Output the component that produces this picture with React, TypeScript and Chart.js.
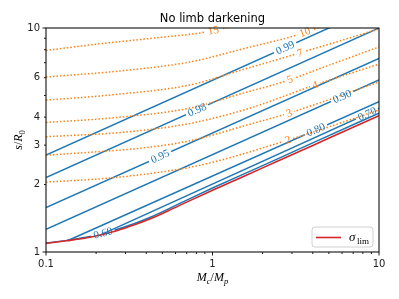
import { useEffect, useRef } from 'react';
import { Chart, registerables } from 'chart.js';

Chart.register(...registerables);

// ---- axis ticks ----
const xTickValues = [0.1, 0.2, 0.3, 0.4, 0.5, 0.6, 0.7, 0.8, 0.9, 1, 2, 3, 4, 5, 6, 7, 8, 9, 10];
const xLabelled = [0.1, 1, 10];
const xMajor = [0.1, 1, 10];
const yTickValues = [1, 2, 3, 4, 5, 6, 7, 8, 9, 10];
const yLabelled = [1, 2, 3, 4, 6, 10];
const yMajor = [1, 10];

// ---- sigma_lim (red) ----
const sigmaLimX = [0.1, 0.133, 0.19, 0.266, 0.34, 0.42, 0.55, 0.7, 1, 2, 4, 7, 10];
const sigmaLimY = [1.093, 1.122, 1.17, 1.245, 1.322, 1.403, 1.535, 1.67, 1.885, 2.374, 2.99, 3.605, 4.06];

// ---- blue solid contours ----
const c099X = [0.1, 10];
const c099Y = [2.71, 12.6];
const c098X = [0.1, 10];
const c098Y = [2.15, 10.0];
const c095X = [0.1, 10];
const c095Y = [1.58, 7.32];
const c090X = [0.1, 10];
const c090Y = [1.264, 5.86];
const c080X = [0.1355, 10];
const c080Y = [1.125, 4.69];
const c070X = [0.211, 10];
const c070Y = [1.19, 4.37];
const c060X = [0.1, 0.133, 0.19, 0.266, 0.34, 0.42, 0.7, 1, 2, 4, 10];
const c060Y = [1.095, 1.127, 1.18, 1.26, 1.34, 1.425, 1.705, 1.93, 2.43, 3.07, 4.17];

// ---- orange dotted contours ----
const s15X = [0.1, 0.211, 0.5, 0.841, 1.19, 1.6];
const s15Y = [7.94, 8.5, 9.1, 9.5, 10.0, 10.6];
const s10X = [0.1, 0.278, 0.733, 1.5, 3.22, 5.08];
const s10Y = [6.04, 6.43, 7.05, 8.05, 9.31, 10.5];
const s7X = [0.1, 0.242, 0.733, 1.5, 3.04, 5.5, 10];
const s7Y = [4.77, 5.02, 5.57, 6.5, 7.58, 8.65, 9.9];
const s5X = [0.1, 0.242, 0.733, 1.5, 2.65, 5, 10];
const s5Y = [3.79, 3.96, 4.39, 5.1, 5.74, 6.82, 8.23];
const s4X = [0.1, 0.3, 0.733, 1.68, 4.13, 10];
const s4Y = [3.27, 3.43, 3.75, 4.39, 5.57, 6.9];
const s3X = [0.1, 0.421, 0.733, 1.68, 2.88, 10];
const s3Y = [2.7, 2.94, 3.14, 3.72, 4.17, 5.74];
const s2X = [0.1, 0.278, 0.841, 2.84, 10];
const s2Y = [2.05, 2.16, 2.44, 3.16, 4.3];

// ---- contour label texts and their x positions ----
const blueLevels = ['0.99', '0.98', '0.95', '0.90', '0.80', '0.70', '0.60'];
const blueLabelX = [2.73, 0.807, 0.484, 6.0, 4.18, 8.47, 0.22];
const orangeLevels = ['15', '10', '7', '5', '4', '3', '2'];
const orangeLabelX = [1.01, 3.59, 3.35, 2.92, 4.13, 2.88, 2.84];

const BLUE = '#1f77b4';
const ORANGE = '#ff7f0e';
const RED = '#d62728';

type Series = {
  name: string;
  xs: number[];
  ys: number[];
  color: string;
  dash: number[];
  width: number;
  smooth: boolean;
  labelText?: string;
  labelX?: number;
};

const blueData = [
  [c099X, c099Y], [c098X, c098Y], [c095X, c095Y], [c090X, c090Y],
  [c080X, c080Y], [c070X, c070Y], [c060X, c060Y],
];
const orangeData = [
  [s15X, s15Y], [s10X, s10Y], [s7X, s7Y], [s5X, s5Y], [s4X, s4Y], [s3X, s3Y], [s2X, s2Y],
];

const series: Series[] = [
  { name: 'sigma_lim', xs: sigmaLimX, ys: sigmaLimY, color: RED, dash: [], width: 1.6, smooth: true },
  ...orangeData.map(([xs, ys], i) => ({
    name: 'o' + orangeLevels[i], xs, ys, color: ORANGE, dash: [1.5, 2.0], width: 1.5, smooth: true,
    labelText: orangeLevels[i], labelX: orangeLabelX[i],
  })),
  ...blueData.map(([xs, ys], i) => ({
    name: 'b' + blueLevels[i], xs, ys, color: BLUE, dash: [], width: 1.5, smooth: xs.length > 2,
    labelText: blueLevels[i], labelX: blueLabelX[i],
  })),
];

const LABEL_FONT = '11px "Liberation Serif", "DejaVu Serif", serif';

function interpLog(xs: number[], ys: number[], x: number): number {
  const lx = Math.log10(x);
  for (let i = 0; i < xs.length - 1; i++) {
    const a = Math.log10(xs[i]);
    const b = Math.log10(xs[i + 1]);
    if (lx >= a && lx <= b) {
      const t = (lx - a) / (b - a);
      return Math.pow(10, Math.log10(ys[i]) * (1 - t) + Math.log10(ys[i + 1]) * t);
    }
  }
  return lx < Math.log10(xs[0]) ? ys[0] : ys[ys.length - 1];
}

function labelGeom(chart: any, s: Series) {
  const sx = chart.scales.x;
  const sy = chart.scales.y;
  const lx = s.labelX as number;
  const px = sx.getPixelForValue(lx);
  const py = sy.getPixelForValue(interpLog(s.xs, s.ys, lx));
  const x1 = lx / 1.08;
  const x2 = lx * 1.08;
  const ax = sx.getPixelForValue(x1);
  const ay = sy.getPixelForValue(interpLog(s.xs, s.ys, x1));
  const bx = sx.getPixelForValue(x2);
  const by = sy.getPixelForValue(interpLog(s.xs, s.ys, x2));
  const angle = Math.atan2(by - ay, bx - ax);
  const ctx = chart.ctx;
  ctx.save();
  ctx.font = LABEL_FONT;
  const w = ctx.measureText(s.labelText).width;
  ctx.restore();
  return { px, py, angle, w };
}

type Run = { t: string; font: string; dy: number };

function drawRuns(ctx: CanvasRenderingContext2D, runs: Run[], cx: number, y: number) {
  let total = 0;
  const widths = runs.map((r) => {
    ctx.font = r.font;
    const w = ctx.measureText(r.t).width;
    total += w;
    return w;
  });
  let x = cx - total / 2;
  runs.forEach((r, i) => {
    ctx.font = r.font;
    ctx.fillText(r.t, x, y + r.dy);
    x += widths[i];
  });
}

const SERIF = '"Liberation Serif", "DejaVu Serif", serif';

const decorPlugin = {
  id: 'decor',
  beforeDatasetDraw(chart: any, args: any) {
    const s = series[args.index];
    if (!s || !s.labelText) return;
    const g = labelGeom(chart, s);
    const ctx = chart.ctx;
    ctx.save();
    ctx.beginPath();
    ctx.rect(0, 0, chart.width, chart.height);
    const hw = g.w / 2 + 2.5;
    const hh = 4.5;
    const c = Math.cos(g.angle);
    const sn = Math.sin(g.angle);
    const corners = [[-hw, -hh], [hw, -hh], [hw, hh], [-hw, hh]].map(([u, v]) => [
      g.px + u * c - v * sn,
      g.py + u * sn + v * c,
    ]);
    ctx.moveTo(corners[0][0], corners[0][1]);
    for (let k = 1; k < 4; k++) ctx.lineTo(corners[k][0], corners[k][1]);
    ctx.closePath();
    ctx.clip('evenodd');
    (s as any)._clipped = true;
  },
  afterDatasetDraw(chart: any, args: any) {
    const s = series[args.index] as any;
    if (s && s._clipped) {
      chart.ctx.restore();
      s._clipped = false;
    }
  },
  afterDatasetsDraw(chart: any) {
    const ctx = chart.ctx as CanvasRenderingContext2D;
    series.forEach((s) => {
      if (!s.labelText) return;
      const g = labelGeom(chart, s);
      ctx.save();
      ctx.translate(g.px, g.py);
      ctx.rotate(g.angle);
      ctx.font = LABEL_FONT;
      ctx.fillStyle = s.color;
      ctx.textAlign = 'center';
      ctx.textBaseline = 'middle';
      ctx.fillText(s.labelText, 0, 0.5);
      ctx.restore();
    });
  },
  afterDraw(chart: any) {
    const ctx = chart.ctx as CanvasRenderingContext2D;
    const { left, right, top, bottom } = chart.chartArea;
    const sx = chart.scales.x;
    const sy = chart.scales.y;
    ctx.save();
    // tick marks
    ctx.strokeStyle = '#000';
    ctx.lineWidth = 0.9;
    xTickValues.forEach((v) => {
      const p = sx.getPixelForValue(v);
      const len = xMajor.some((m) => Math.abs(m - v) < 1e-9) ? 3.5 : 2;
      ctx.beginPath();
      ctx.moveTo(p, bottom);
      ctx.lineTo(p, bottom + len);
      ctx.stroke();
    });
    yTickValues.forEach((v) => {
      const p = sy.getPixelForValue(v);
      const len = yMajor.includes(v) ? 3.5 : 2;
      ctx.beginPath();
      ctx.moveTo(left, p);
      ctx.lineTo(left - len, p);
      ctx.stroke();
    });
    // spines
    ctx.lineWidth = 1.1;
    ctx.strokeStyle = '#111';
    ctx.strokeRect(left, top, right - left, bottom - top);

    // title
    ctx.fillStyle = '#000';
    ctx.textAlign = 'center';
    ctx.textBaseline = 'alphabetic';
    ctx.font = '11.5px "DejaVu Sans", sans-serif';
    ctx.fillText('No limb darkening', (left + right) / 2, 22);

    // x axis label
    ctx.textAlign = 'left';
    drawRuns(ctx, [
      { t: 'M', font: `italic 12px ${SERIF}`, dy: 0 },
      { t: 'c', font: `italic 8.5px ${SERIF}`, dy: 2.5 },
      { t: '/', font: `12px ${SERIF}`, dy: 0 },
      { t: 'M', font: `italic 12px ${SERIF}`, dy: 0 },
      { t: 'p', font: `italic 8.5px ${SERIF}`, dy: 2.5 },
    ], (left + right) / 2, 281);

    // y axis label
    ctx.save();
    ctx.translate(22, (top + bottom) / 2);
    ctx.rotate(-Math.PI / 2);
    drawRuns(ctx, [
      { t: 's', font: `italic 12px ${SERIF}`, dy: 0 },
      { t: '/', font: `12px ${SERIF}`, dy: 0 },
      { t: 'R', font: `italic 12px ${SERIF}`, dy: 0 },
      { t: '0', font: `8.5px ${SERIF}`, dy: 2.5 },
    ], 0, 0);
    ctx.restore();

    // legend
    const lx0 = 312, ly0 = 227, lw = 61, lh = 20, r = 3;
    ctx.beginPath();
    ctx.moveTo(lx0 + r, ly0);
    ctx.arcTo(lx0 + lw, ly0, lx0 + lw, ly0 + lh, r);
    ctx.arcTo(lx0 + lw, ly0 + lh, lx0, ly0 + lh, r);
    ctx.arcTo(lx0, ly0 + lh, lx0, ly0, r);
    ctx.arcTo(lx0, ly0, lx0 + lw, ly0, r);
    ctx.closePath();
    ctx.fillStyle = 'rgba(255,255,255,0.85)';
    ctx.fill();
    ctx.strokeStyle = '#d0d0d0';
    ctx.lineWidth = 1;
    ctx.stroke();
    ctx.strokeStyle = RED;
    ctx.lineWidth = 1.6;
    ctx.beginPath();
    ctx.moveTo(316, 237.5);
    ctx.lineTo(341, 237.5);
    ctx.stroke();
    ctx.fillStyle = '#000';
    ctx.textAlign = 'left';
    ctx.font = `italic 13px ${SERIF}`;
    ctx.fillText('σ', 349, 240.5);
    ctx.font = `9px ${SERIF}`;
    ctx.fillText('lim', 357, 243.5);
    ctx.restore();
  },
};

const near = (list: number[], v: number) => list.find((l) => Math.abs(l - v) / l < 1e-6);

export default function App() {
  const ref = useRef<HTMLCanvasElement>(null);
  useEffect(() => {
    if (!ref.current) return;
    const chart = new Chart(ref.current, {
      type: 'line',
      data: {
        datasets: series.map((s) => ({
          label: s.name,
          data: s.xs.map((x, i) => ({ x, y: s.ys[i] })),
          borderColor: s.color,
          backgroundColor: s.color,
          borderWidth: s.width,
          borderDash: s.dash,
          borderCapStyle: 'butt' as const,
          pointRadius: 0,
          fill: false,
          cubicInterpolationMode: s.smooth ? ('monotone' as const) : ('default' as const),
        })),
      },
      options: {
        responsive: false,
        animation: false,
        devicePixelRatio: 1,
        layout: { padding: { top: 28, right: 20, left: 0, bottom: 0 } },
        plugins: {
          legend: { display: false },
          tooltip: { enabled: false },
          title: { display: false },
        },
        elements: { point: { radius: 0 }, line: { tension: 0 } },
        scales: {
          x: {
            type: 'logarithmic',
            min: 0.1,
            max: 10,
            grid: { display: false, drawTicks: false },
            border: { display: false },
            afterBuildTicks: (s: any) => {
              s.ticks = xTickValues.map((v) => ({ value: v }));
            },
            afterFit: (s: any) => {
              s.height = 47;
            },
            ticks: {
              autoSkip: false,
              maxRotation: 0,
              minRotation: 0,
              padding: 6,
              color: '#222',
              font: { family: '"DejaVu Sans", sans-serif', size: 10 },
              callback: (v: any) => {
                const m = near(xLabelled, Number(v));
                return m === undefined ? '' : String(m);
              },
            },
          },
          y: {
            type: 'logarithmic',
            min: 1,
            max: 10,
            grid: { display: false, drawTicks: false },
            border: { display: false },
            afterBuildTicks: (s: any) => {
              s.ticks = yTickValues.map((v) => ({ value: v }));
            },
            afterFit: (s: any) => {
              s.width = 46;
            },
            ticks: {
              autoSkip: false,
              padding: 6,
              color: '#222',
              font: { family: '"DejaVu Sans", sans-serif', size: 10 },
              callback: (v: any) => {
                const m = near(yLabelled, Number(v));
                return m === undefined ? '' : String(m);
              },
            },
          },
        },
      } as any,
      plugins: [decorPlugin],
    });
    return () => chart.destroy();
  }, []);
  return (
    <div style={{ position: 'absolute', left: 0, top: 0, width: 399, height: 299, background: '#fff' }}>
      <canvas ref={ref} width={399} height={299} style={{ display: 'block', width: 399, height: 299 }} />
    </div>
  );
}
